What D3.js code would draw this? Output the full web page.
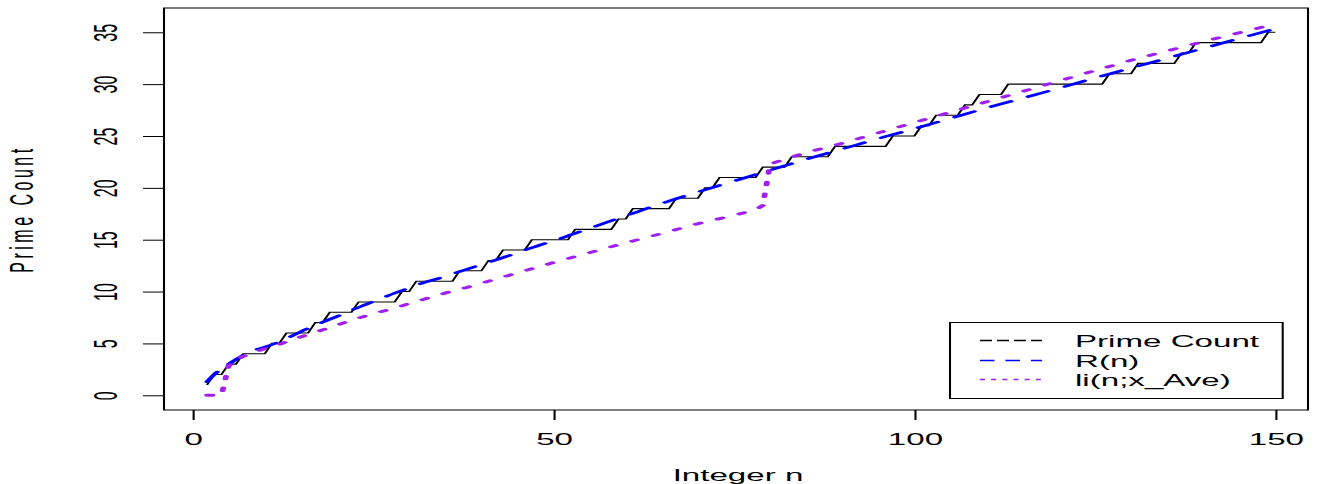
<!DOCTYPE html>
<html>
<head>
<meta charset="utf-8">
<script src="https://cdn.jsdelivr.net/npm/d3@7"></script>
<style>
  html, body { margin: 0; padding: 0; background: #fff; }
  svg { display: block; }
  text { font-family: "Liberation Sans", Arial, Helvetica, sans-serif; font-size: 16px; fill: #000; }
</style>
</head>
<body>
<div id="chart"></div>
<script>
// ---------------- data ----------------
// primes up to 150 (the breakpoints of the prime counting staircase)
const primes = [2,3,5,7,11,13,17,19,23,29,31,37,41,43,47,53,59,61,67,71,73,79,83,89,97,101,103,107,109,113,127,131,137,139,149];
const countN = d3.range(2, 151);                 // integers n plotted for the prime count
const primeCount = countN.map(n => d3.bisectRight(primes, n));

// Riemann R(n)
const rN   = [2,3,4,5,6,7,8,9,10,12,14,16,18,20,22,24,26,28,30,32,34,36,38,40,42,44,46,48,50,55,60,65,70,75,80,85,90,95,100,105,110,115,120,125,130,135,140,145,150];
const rVal = [1.3,2.0,2.55,3.0,3.45,3.85,4.2,4.45,4.65,5.15,5.8,6.45,7.05,7.6,8.2,8.75,9.3,9.85,10.35,10.85,11.25,11.7,12.15,12.6,13.05,13.5,14.0,14.45,14.9,16.1,17.3,18.5,19.6,20.65,21.7,22.75,23.75,24.75,25.7,26.7,27.7,28.65,29.6,30.6,31.55,32.5,33.45,34.4,35.35];

// li(n; x_Ave)
const liN   = [2,3,4,5,6,7,8,10,12,14,16,18,20,22,24,26,28,30,32,34,36,38,40,42,44,46,48,50,55,60,65,70,75,78,79,80,85,90,100,110,120,130,140,150];
const liVal = [0,0,0,2.85,3.4,3.75,4.0,4.5,4.9,5.4,5.85,6.3,6.75,7.25,7.65,8.05,8.4,8.85,9.25,9.65,10.05,10.4,10.8,11.2,11.6,12.0,12.4,12.8,13.75,14.7,15.6,16.55,17.35,17.9,18.3,22.3,23.4,24.3,26.3,28.3,30.3,32.3,34.1,35.8];

const xTicks = [0, 50, 100, 150];
const yTicks = [0, 5, 10, 15, 20, 25, 30, 35];
const legendLabels = ["Prime Count", "R(n)", "li(n;x_Ave)"];
const legendColors = ["#000000", "#0000ff", "#a020f0"];

// ---------------- layout ----------------
const W = 1319, H = 484;
const SX = 2.07;                // the whole picture is horizontally stretched
const px = v => v / SX;         // final pixel x -> inner x
const box = {l: 164, r: 1308, t: 8, b: 410};

const svg = d3.select("#chart").append("svg").attr("width", W).attr("height", H);
const g = svg.append("g").attr("transform", `scale(${SX},1)`);

const x = d3.scaleLinear().domain([-3.962, 154.52]).range([px(box.l), px(box.r)]);
const y = d3.scaleLinear().domain([-1.42, 37.34]).range([box.b, box.t]);

// ---------------- series ----------------
const line = d3.line().x(d => x(d[0])).y(d => y(d[1]));

g.append("path")
  .datum(countN.map((n, i) => [n, primeCount[i]]))
  .attr("d", line)
  .attr("fill", "none").attr("stroke", "#000").attr("stroke-width", 1.1);

g.append("path")
  .datum(rN.map((n, i) => [n, rVal[i]]))
  .attr("d", line.curve(d3.curveMonotoneX))
  .attr("fill", "none").attr("stroke", legendColors[1]).attr("stroke-width", 2.5)
  .attr("stroke-linecap", "round").attr("stroke-dasharray", "11,9.5");

line.curve(d3.curveLinear);
g.append("path")
  .datum(liN.map((n, i) => [n, liVal[i]]))
  .attr("d", line)
  .attr("fill", "none").attr("stroke", legendColors[2]).attr("stroke-width", 2.8)
  .attr("stroke-linecap", "round").attr("stroke-dasharray", "2.7,9");

// ---------------- box ----------------
g.append("rect")
  .attr("x", px(box.l)).attr("y", box.t)
  .attr("width", px(box.r - box.l)).attr("height", box.b - box.t)
  .attr("fill", "none").attr("stroke", "#000").attr("stroke-width", 1);

// ---------------- axes ----------------
const xAxisG = g.append("g").attr("transform", `translate(0,${box.b})`)
  .call(d3.axisBottom(x).tickValues(xTicks).tickSize(10).tickSizeOuter(0));
xAxisG.select(".domain").remove();
xAxisG.selectAll("line").attr("stroke", "#000").attr("stroke-width", 1);
xAxisG.selectAll("text").attr("y", 35).attr("dy", 0)
  .attr("font-size", 16).attr("font-family", null).attr("fill", "#000");

const yAxisG = g.append("g").attr("transform", `translate(${px(box.l)},0)`)
  .call(d3.axisLeft(y).tickValues(yTicks).tickSize(px(21)).tickSizeOuter(0));
yAxisG.select(".domain").remove();
yAxisG.selectAll("line").attr("stroke", "#000").attr("stroke-width", 1);
yAxisG.selectAll("text")
  .attr("x", 0).attr("dy", 0)
  .attr("text-anchor", "middle")
  .attr("transform", `translate(${px(117 - box.l)},0) rotate(-90)`)
  .attr("font-size", 16).attr("font-family", null).attr("fill", "#000");

// axis titles
g.append("text")
  .attr("transform", `translate(${px(33)},${(box.t + box.b) / 2}) rotate(-90)`)
  .attr("text-anchor", "middle")
  .style("letter-spacing", "3.5px")
  .text("Prime Count");

g.append("text")
  .attr("x", px(738)).attr("y", 481)
  .attr("text-anchor", "middle")
  .text("Integer n");

// ---------------- legend ----------------
const lg = g.append("g");
lg.append("rect")
  .attr("x", px(950)).attr("y", 322.5)
  .attr("width", px(332.7)).attr("height", 76)
  .attr("fill", "#fff").attr("stroke", "#000").attr("stroke-width", 1);

const legendDash = ["5.8,2.4", "7,5.3", "2.4,3"];
legendLabels.forEach((lab, i) => {
  const ly = Math.round(340 + i * 19.5) + 0.5;
  lg.append("line")
    .attr("x1", px(980)).attr("x2", px(1042))
    .attr("y1", ly).attr("y2", ly)
    .attr("stroke", legendColors[i]).attr("stroke-width", 1.3)
    .attr("stroke-dasharray", legendDash[i]);
  lg.append("text")
    .attr("x", px(1075)).attr("y", 347.5 + i * 19.5)
    .text(lab);
});
</script>
</body>
</html>
